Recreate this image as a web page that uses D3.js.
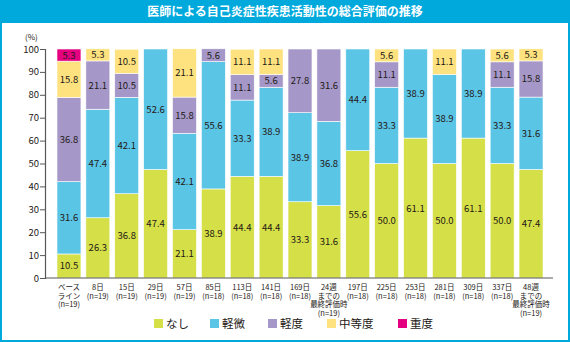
<!DOCTYPE html>
<html><head><meta charset="utf-8">
<script src="https://cdn.jsdelivr.net/npm/d3@7"></script>
<style>
html,body{margin:0;padding:0;background:#fff;}
svg{display:block;}
text{font-family:"Noto Sans CJK JP","Noto Sans",sans-serif;}
</style></head>
<body>
<svg id="chart" width="570" height="342"></svg>
<script>
const title = "医師による自己炎症性疾患活動性の総合評価の推移";
const categories = [
  ["ベース","ライン","(n=19)"],["8日","(n=19)"],["15日","(n=19)"],["29日","(n=19)"],["57日","(n=19)"],
  ["85日","(n=18)"],["113日","(n=18)"],["141日","(n=18)"],["169日","(n=18)"],["24週","までの","最終評価時","(n=19)"],
  ["197日","(n=18)"],["225日","(n=18)"],["253日","(n=18)"],["281日","(n=18)"],["309日","(n=18)"],["337日","(n=18)"],
  ["48週","までの","最終評価時","(n=19)"]
];
const seriesNames = ["なし","軽微","軽度","中等度","重度"];
const colors = ["#d5df48","#5bc5e6","#a598c8","#fee27f","#e5007f"];
const nashi   = [10.5,26.3,36.8,47.4,21.1,38.9,44.4,44.4,33.3,31.6,55.6,50.0,61.1,50.0,61.1,50.0,47.4];
const keibi   = [31.6,47.4,42.1,52.6,42.1,55.6,33.3,38.9,38.9,36.8,44.4,33.3,38.9,38.9,38.9,33.3,31.6];
const keido   = [36.8,21.1,10.5,0,15.8,5.6,11.1,5.6,27.8,31.6,0,11.1,0,0,0,11.1,15.8];
const chutodo = [15.8,5.3,10.5,0,21.1,0,11.1,11.1,0,0,0,5.6,0,11.1,0,5.6,5.3];
const judo    = [5.3,0,0,0,0,0,0,0,0,0,0,0,0,0,0,0,0];
const yTicks = [0,10,20,30,40,50,60,70,80,90,100];

const seriesValues = [nashi,keibi,keido,chutodo,judo];
const rows = categories.map((c,i)=>{
  const r = {idx:i};
  seriesNames.forEach((s,k)=>r[s]=seriesValues[k][i]);
  return r;
});

const svg = d3.select("#chart");
const W=570,H=342;
// frame
svg.append("rect").attr("x",1).attr("y",1).attr("width",W-2).attr("height",H-2)
  .attr("fill","#fff").attr("stroke","#00a9dc").attr("stroke-width",2);
svg.append("rect").attr("x",0).attr("y",0).attr("width",W).attr("height",23).attr("fill","#00a9dc");
svg.append("text").attr("x",W/2).attr("y",16).attr("text-anchor","middle")
  .attr("fill","#fff").attr("font-size",12).attr("font-weight","bold").text(title);

const x = d3.scaleBand().domain(d3.range(categories.length)).range([45,555]).paddingInner(0.17).paddingOuter(0.415);
const y = d3.scaleLinear().domain([0,100]).range([278,49]);

const stack = d3.stack().keys(seriesNames)(rows);

const g = svg.append("g");
stack.forEach((layer,k)=>{
  g.selectAll(null).data(layer.filter(d=>d[1]-d[0]>0)).enter().append("rect")
    .attr("x",d=>x(d.data.idx)).attr("width",x.bandwidth())
    .attr("y",d=>y(d[1])).attr("height",d=>y(d[0])-y(d[1]))
    .attr("fill",colors[k]).attr("stroke","#fff").attr("stroke-width",0.6);
});
const fmt = d3.format(".1f");
stack.forEach((layer,k)=>{
  g.selectAll(null).data(layer.filter(d=>d[1]-d[0]>0)).enter().append("text")
    .attr("x",d=>x(d.data.idx)+x.bandwidth()/2)
    .attr("y",d=>(y(d[0])+y(d[1]))/2+3.5)
    .attr("text-anchor","middle").attr("font-size",9.5).attr("fill","#231815")
    .text(d=>fmt(d[1]-d[0]));
});

// y axis
const ya = svg.append("g").attr("transform","translate(45,0)")
  .call(d3.axisLeft(y).tickValues(yTicks).tickSize(5).tickPadding(1));
ya.select(".domain").attr("stroke","#595757").attr("stroke-width",1.2);
ya.selectAll(".tick line").attr("stroke","#595757");
ya.selectAll(".tick text").attr("font-size",9.5).attr("fill","#231815")
  .attr("font-family","'Noto Sans CJK JP',sans-serif");
svg.append("text").attr("x",25).attr("y",40).attr("font-size",8).attr("fill","#231815").text("(%)");

// x axis
const xa = svg.append("g").attr("transform","translate(0,278)")
  .call(d3.axisBottom(x).tickSize(0).tickFormat(""));
xa.select(".domain").attr("stroke","#595757").attr("stroke-width",1.2)
  .attr("d","M45,0H553");
categories.forEach((lines,i)=>{
  const cx = x(i)+x.bandwidth()/2;
  lines.forEach((l,j)=>{
    svg.append("text").attr("x",cx).attr("y",290+j*8.5)
      .attr("text-anchor","middle").attr("font-size",7.5).attr("fill","#231815")
      .attr("font-family","'Liberation Sans','Noto Sans CJK JP',sans-serif")
      .text(l);
  });
});

// legend
const legX = [154,210,268,327,398];
seriesNames.forEach((s,k)=>{
  svg.append("rect").attr("x",legX[k]).attr("y",319).attr("width",9).attr("height",9).attr("fill",colors[k]);
  svg.append("text").attr("x",legX[k]+12).attr("y",328).attr("font-size",11.5).attr("fill","#231815").text(s);
});
</script>
</body></html>
